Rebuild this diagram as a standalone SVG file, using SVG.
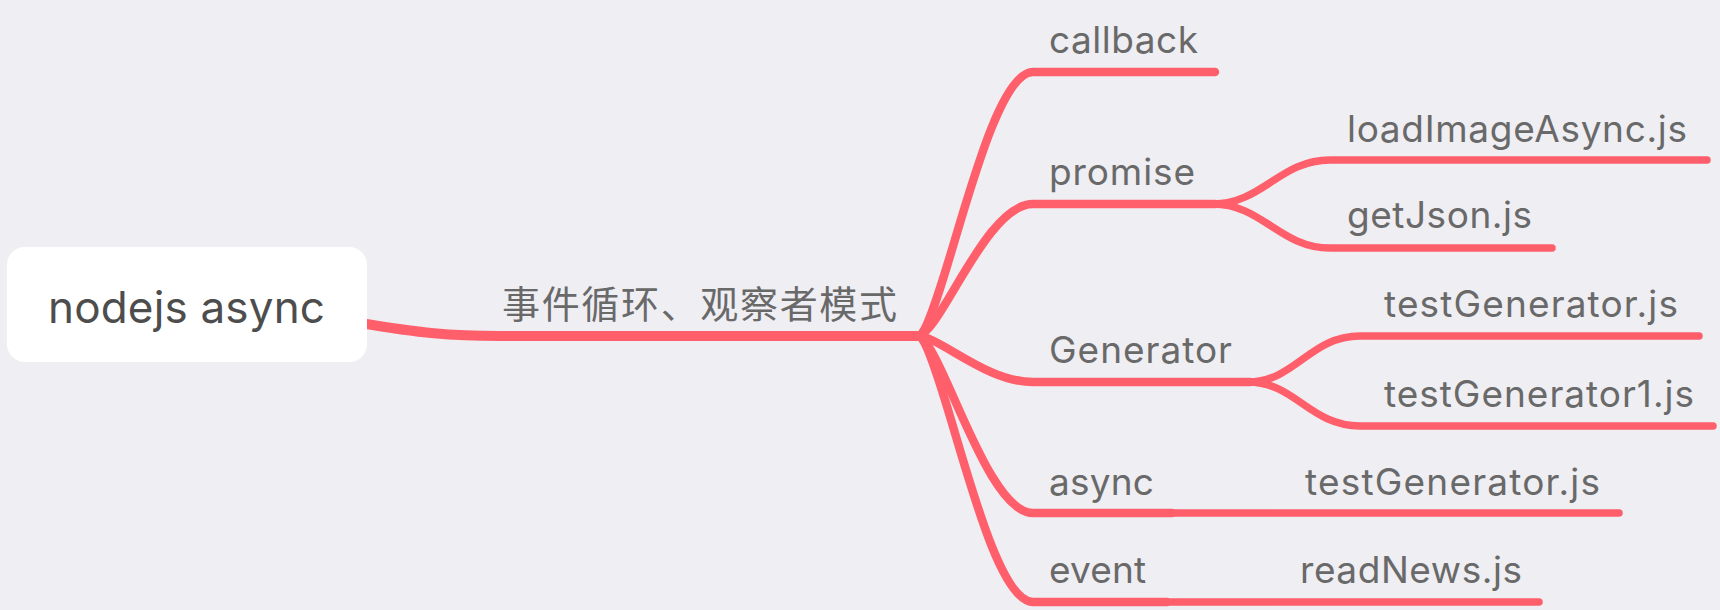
<svg xmlns="http://www.w3.org/2000/svg" width="1720" height="610" viewBox="0 0 1720 610">
  <style>
    .l1 { fill: none; stroke: #FF5F6B; stroke-width: 8.5; stroke-linecap: round; stroke-linejoin: round; }
    .l2 { fill: none; stroke: #FF5F6B; stroke-width: 7.5; stroke-linecap: round; stroke-linejoin: round; }
    .trunk { fill: none; stroke: #FF5F6B; stroke-width: 10; stroke-linecap: round; }
    .lbl { font-family: Inter, "Liberation Sans", sans-serif; font-size: 37px; fill: #696969; }
    .root { font-family: Inter, "Liberation Sans", sans-serif; font-size: 44px; fill: #4D4D4D; }
    .cjk { font-family: "Noto Sans CJK SC", sans-serif; font-size: 38px; fill: #696969; }
  </style>
  <rect width="1720" height="610" fill="#EFEEF3"/>
  <g id="connectors">
    <path class="trunk" d="M 360 323 C 420 333 450 336 500 336 L 917 336"/>
    <path class="l1" d="M 917 336 C 940 336 985 72 1033 72 L 1215 72"/>
    <path class="l1" d="M 917 336 C 940 336 985 204 1033 204 L 1215 204"/>
    <path class="l1" d="M 917 336 C 940 336 985 382 1033 382 L 1250 382"/>
    <path class="l1" d="M 917 336 C 940 336 985 513 1033 513 L 1172 513"/>
    <path class="l1" d="M 917 336 C 940 336 985 602 1033 602 L 1167 602"/>
    <path class="l2" d="M 1213 204 C 1262 204 1280 160 1330 160 L 1707 160"/>
    <path class="l2" d="M 1213 204 C 1262 204 1280 248 1330 248 L 1552 248"/>
    <path class="l2" d="M 1248 382 C 1295 382 1310 336 1360 336 L 1699 336"/>
    <path class="l2" d="M 1248 382 C 1295 382 1310 426 1360 426 L 1713 426"/>
    <path class="l2" d="M 1165 513 L 1619 513"/>
    <path class="l2" d="M 1160 602 L 1539 602"/>
  </g>
  <g id="root">
    <rect x="7" y="247" width="360" height="115" rx="18" fill="#FFFFFF"/>
    <text class="root" x="48" y="323" textLength="277">nodejs async</text>
  </g>
  <g id="main-topic">
    <text class="cjk" x="502" y="318" textLength="395">事件循环、观察者模式</text>
  </g>
  <g id="callback"><text class="lbl" x="1049" y="53" textLength="149">callback</text></g>
  <g id="promise"><text class="lbl" x="1049" y="185" textLength="146">promise</text></g>
  <g id="loadImageAsync"><text class="lbl" x="1347" y="142" textLength="340">loadImageAsync.js</text></g>
  <g id="getJson"><text class="lbl" x="1347" y="228" textLength="185">getJson.js</text></g>
  <g id="generator"><text class="lbl" x="1049" y="363" textLength="183">Generator</text></g>
  <g id="testGenerator"><text class="lbl" x="1384" y="317" textLength="294">testGenerator.js</text></g>
  <g id="testGenerator1"><text class="lbl" x="1384" y="407" textLength="310">testGenerator1.js</text></g>
  <g id="async"><text class="lbl" x="1049" y="495" textLength="105">async</text></g>
  <g id="async-testGenerator"><text class="lbl" x="1305" y="495" textLength="295">testGenerator.js</text></g>
  <g id="event"><text class="lbl" x="1049" y="583" textLength="97">event</text></g>
  <g id="readNews"><text class="lbl" x="1300" y="583" textLength="222">readNews.js</text></g>
</svg>
